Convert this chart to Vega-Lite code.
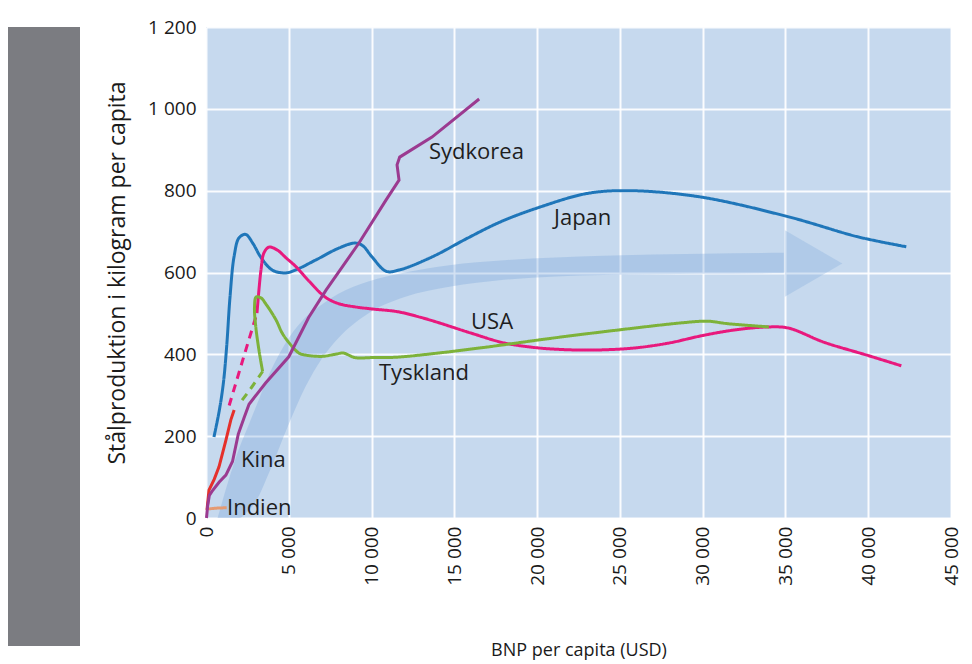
{
  "$schema": "https://vega.github.io/schema/vega-lite/v6.json",
  "padding": {"left": 8, "top": 18, "right": 5, "bottom": 0},
  "spacing": 26,
  "datasets": {
    "band": [
      {"x": 700, "y": 0, "y2": 0},
      {"x": 1500, "y": 0, "y2": 110},
      {"x": 2000, "y": 0, "y2": 170},
      {"x": 2600, "y": 20, "y2": 230},
      {"x": 3000, "y": 40, "y2": 270},
      {"x": 3800, "y": 110, "y2": 350},
      {"x": 5000, "y": 230, "y2": 440},
      {"x": 6000, "y": 320, "y2": 490},
      {"x": 7000, "y": 390, "y2": 522},
      {"x": 8000, "y": 440, "y2": 548},
      {"x": 9800, "y": 500, "y2": 578},
      {"x": 12000, "y": 540, "y2": 600},
      {"x": 14700, "y": 565, "y2": 618},
      {"x": 18000, "y": 582, "y2": 630},
      {"x": 24000, "y": 594, "y2": 641},
      {"x": 30000, "y": 597, "y2": 646},
      {"x": 34900, "y": 598, "y2": 648}
    ],
    "head": [{"x": 36700, "y": 622}],
    "lines": [
      {"country": "Japan", "part": "Japan", "segment": "measured", "i": 1, "x": 480, "y": 198},
      {"country": "Japan", "part": "Japan", "segment": "measured", "i": 2, "x": 800, "y": 262},
      {"country": "Japan", "part": "Japan", "segment": "measured", "i": 3, "x": 1050, "y": 330},
      {"country": "Japan", "part": "Japan", "segment": "measured", "i": 4, "x": 1250, "y": 420},
      {"country": "Japan", "part": "Japan", "segment": "measured", "i": 5, "x": 1450, "y": 540},
      {"country": "Japan", "part": "Japan", "segment": "measured", "i": 6, "x": 1700, "y": 640},
      {"country": "Japan", "part": "Japan", "segment": "measured", "i": 7, "x": 2000, "y": 685},
      {"country": "Japan", "part": "Japan", "segment": "measured", "i": 8, "x": 2400, "y": 693},
      {"country": "Japan", "part": "Japan", "segment": "measured", "i": 9, "x": 2850, "y": 670},
      {"country": "Japan", "part": "Japan", "segment": "measured", "i": 10, "x": 3300, "y": 638},
      {"country": "Japan", "part": "Japan", "segment": "measured", "i": 11, "x": 4000, "y": 606},
      {"country": "Japan", "part": "Japan", "segment": "measured", "i": 12, "x": 4800, "y": 599},
      {"country": "Japan", "part": "Japan", "segment": "measured", "i": 13, "x": 5400, "y": 606},
      {"country": "Japan", "part": "Japan", "segment": "measured", "i": 14, "x": 6650, "y": 631},
      {"country": "Japan", "part": "Japan", "segment": "measured", "i": 15, "x": 8040, "y": 660},
      {"country": "Japan", "part": "Japan", "segment": "measured", "i": 16, "x": 9000, "y": 672},
      {"country": "Japan", "part": "Japan", "segment": "measured", "i": 17, "x": 9450, "y": 666},
      {"country": "Japan", "part": "Japan", "segment": "measured", "i": 18, "x": 10030, "y": 638},
      {"country": "Japan", "part": "Japan", "segment": "measured", "i": 19, "x": 10880, "y": 603},
      {"country": "Japan", "part": "Japan", "segment": "measured", "i": 20, "x": 11660, "y": 606},
      {"country": "Japan", "part": "Japan", "segment": "measured", "i": 21, "x": 13650, "y": 638},
      {"country": "Japan", "part": "Japan", "segment": "measured", "i": 22, "x": 15800, "y": 684},
      {"country": "Japan", "part": "Japan", "segment": "measured", "i": 23, "x": 17800, "y": 724},
      {"country": "Japan", "part": "Japan", "segment": "measured", "i": 24, "x": 20180, "y": 760},
      {"country": "Japan", "part": "Japan", "segment": "measured", "i": 25, "x": 23000, "y": 793},
      {"country": "Japan", "part": "Japan", "segment": "measured", "i": 26, "x": 25500, "y": 800},
      {"country": "Japan", "part": "Japan", "segment": "measured", "i": 27, "x": 29800, "y": 785},
      {"country": "Japan", "part": "Japan", "segment": "measured", "i": 28, "x": 35200, "y": 736},
      {"country": "Japan", "part": "Japan", "segment": "measured", "i": 29, "x": 39400, "y": 687},
      {"country": "Japan", "part": "Japan", "segment": "measured", "i": 30, "x": 42300, "y": 663},

      {"country": "USA", "part": "USA-a", "segment": "estimated", "i": 1, "x": 1400, "y": 275},
      {"country": "USA", "part": "USA-a", "segment": "estimated", "i": 2, "x": 2250, "y": 390},
      {"country": "USA", "part": "USA-a", "segment": "estimated", "i": 3, "x": 3080, "y": 501},
      {"country": "USA", "part": "USA-b", "segment": "measured", "i": 1, "x": 3080, "y": 501},
      {"country": "USA", "part": "USA-b", "segment": "measured", "i": 2, "x": 3320, "y": 606},
      {"country": "USA", "part": "USA-b", "segment": "measured", "i": 3, "x": 3500, "y": 648},
      {"country": "USA", "part": "USA-b", "segment": "measured", "i": 4, "x": 3800, "y": 662},
      {"country": "USA", "part": "USA-b", "segment": "measured", "i": 5, "x": 4300, "y": 655},
      {"country": "USA", "part": "USA-b", "segment": "measured", "i": 6, "x": 4830, "y": 636},
      {"country": "USA", "part": "USA-b", "segment": "measured", "i": 7, "x": 5440, "y": 614},
      {"country": "USA", "part": "USA-b", "segment": "measured", "i": 8, "x": 6200, "y": 580},
      {"country": "USA", "part": "USA-b", "segment": "measured", "i": 9, "x": 7200, "y": 540},
      {"country": "USA", "part": "USA-b", "segment": "measured", "i": 10, "x": 8000, "y": 524},
      {"country": "USA", "part": "USA-b", "segment": "measured", "i": 11, "x": 9000, "y": 516},
      {"country": "USA", "part": "USA-b", "segment": "measured", "i": 12, "x": 10000, "y": 511},
      {"country": "USA", "part": "USA-b", "segment": "measured", "i": 13, "x": 11600, "y": 504},
      {"country": "USA", "part": "USA-b", "segment": "measured", "i": 14, "x": 13000, "y": 490},
      {"country": "USA", "part": "USA-b", "segment": "measured", "i": 15, "x": 14000, "y": 478},
      {"country": "USA", "part": "USA-b", "segment": "measured", "i": 16, "x": 16000, "y": 452},
      {"country": "USA", "part": "USA-b", "segment": "measured", "i": 17, "x": 18000, "y": 428},
      {"country": "USA", "part": "USA-b", "segment": "measured", "i": 18, "x": 20000, "y": 416},
      {"country": "USA", "part": "USA-b", "segment": "measured", "i": 19, "x": 22000, "y": 411},
      {"country": "USA", "part": "USA-b", "segment": "measured", "i": 20, "x": 24000, "y": 411},
      {"country": "USA", "part": "USA-b", "segment": "measured", "i": 21, "x": 26000, "y": 416},
      {"country": "USA", "part": "USA-b", "segment": "measured", "i": 22, "x": 28000, "y": 428},
      {"country": "USA", "part": "USA-b", "segment": "measured", "i": 23, "x": 30000, "y": 446},
      {"country": "USA", "part": "USA-b", "segment": "measured", "i": 24, "x": 32000, "y": 460},
      {"country": "USA", "part": "USA-b", "segment": "measured", "i": 25, "x": 34000, "y": 467},
      {"country": "USA", "part": "USA-b", "segment": "measured", "i": 26, "x": 35200, "y": 464},
      {"country": "USA", "part": "USA-b", "segment": "measured", "i": 27, "x": 37300, "y": 430},
      {"country": "USA", "part": "USA-b", "segment": "measured", "i": 28, "x": 40000, "y": 397},
      {"country": "USA", "part": "USA-b", "segment": "measured", "i": 29, "x": 42000, "y": 372},

      {"country": "Tyskland", "part": "Tyskland-a", "segment": "estimated", "i": 1, "x": 2180, "y": 288},
      {"country": "Tyskland", "part": "Tyskland-a", "segment": "estimated", "i": 2, "x": 2800, "y": 322},
      {"country": "Tyskland", "part": "Tyskland-a", "segment": "estimated", "i": 3, "x": 3420, "y": 358},
      {"country": "Tyskland", "part": "Tyskland-b", "segment": "measured", "i": 1, "x": 3420, "y": 358},
      {"country": "Tyskland", "part": "Tyskland-b", "segment": "measured", "i": 2, "x": 3200, "y": 410},
      {"country": "Tyskland", "part": "Tyskland-b", "segment": "measured", "i": 3, "x": 3000, "y": 470},
      {"country": "Tyskland", "part": "Tyskland-b", "segment": "measured", "i": 4, "x": 2930, "y": 515},
      {"country": "Tyskland", "part": "Tyskland-b", "segment": "measured", "i": 5, "x": 3030, "y": 540},
      {"country": "Tyskland", "part": "Tyskland-b", "segment": "measured", "i": 6, "x": 3320, "y": 538},
      {"country": "Tyskland", "part": "Tyskland-b", "segment": "measured", "i": 7, "x": 3600, "y": 524},
      {"country": "Tyskland", "part": "Tyskland-b", "segment": "measured", "i": 8, "x": 4230, "y": 484},
      {"country": "Tyskland", "part": "Tyskland-b", "segment": "measured", "i": 9, "x": 4600, "y": 452},
      {"country": "Tyskland", "part": "Tyskland-b", "segment": "measured", "i": 10, "x": 5020, "y": 428},
      {"country": "Tyskland", "part": "Tyskland-b", "segment": "measured", "i": 11, "x": 5620, "y": 403},
      {"country": "Tyskland", "part": "Tyskland-b", "segment": "measured", "i": 12, "x": 6040, "y": 398},
      {"country": "Tyskland", "part": "Tyskland-b", "segment": "measured", "i": 13, "x": 7000, "y": 395},
      {"country": "Tyskland", "part": "Tyskland-b", "segment": "measured", "i": 14, "x": 7800, "y": 400},
      {"country": "Tyskland", "part": "Tyskland-b", "segment": "measured", "i": 15, "x": 8300, "y": 403},
      {"country": "Tyskland", "part": "Tyskland-b", "segment": "measured", "i": 16, "x": 9000, "y": 392},
      {"country": "Tyskland", "part": "Tyskland-b", "segment": "measured", "i": 17, "x": 10000, "y": 392},
      {"country": "Tyskland", "part": "Tyskland-b", "segment": "measured", "i": 18, "x": 11500, "y": 393},
      {"country": "Tyskland", "part": "Tyskland-b", "segment": "measured", "i": 19, "x": 14000, "y": 403},
      {"country": "Tyskland", "part": "Tyskland-b", "segment": "measured", "i": 20, "x": 17000, "y": 418},
      {"country": "Tyskland", "part": "Tyskland-b", "segment": "measured", "i": 21, "x": 21000, "y": 440},
      {"country": "Tyskland", "part": "Tyskland-b", "segment": "measured", "i": 22, "x": 25000, "y": 460},
      {"country": "Tyskland", "part": "Tyskland-b", "segment": "measured", "i": 23, "x": 29000, "y": 478},
      {"country": "Tyskland", "part": "Tyskland-b", "segment": "measured", "i": 24, "x": 30300, "y": 481},
      {"country": "Tyskland", "part": "Tyskland-b", "segment": "measured", "i": 25, "x": 31500, "y": 475},
      {"country": "Tyskland", "part": "Tyskland-b", "segment": "measured", "i": 26, "x": 34000, "y": 467},

      {"country": "Indien", "part": "Indien", "segment": "measured", "i": 1, "x": 150, "y": 22},
      {"country": "Indien", "part": "Indien", "segment": "measured", "i": 2, "x": 600, "y": 24},
      {"country": "Indien", "part": "Indien", "segment": "measured", "i": 3, "x": 1250, "y": 25},

      {"country": "Kina", "part": "Kina", "segment": "measured", "i": 1, "x": 60, "y": 20},
      {"country": "Kina", "part": "Kina", "segment": "measured", "i": 2, "x": 180, "y": 68},
      {"country": "Kina", "part": "Kina", "segment": "measured", "i": 3, "x": 500, "y": 95},
      {"country": "Kina", "part": "Kina", "segment": "measured", "i": 4, "x": 785, "y": 125},
      {"country": "Kina", "part": "Kina", "segment": "measured", "i": 5, "x": 1200, "y": 190},
      {"country": "Kina", "part": "Kina", "segment": "measured", "i": 6, "x": 1500, "y": 240},
      {"country": "Kina", "part": "Kina", "segment": "measured", "i": 7, "x": 1700, "y": 264},

      {"country": "Sydkorea", "part": "Sydkorea", "segment": "measured", "i": 1, "x": 30, "y": 0},
      {"country": "Sydkorea", "part": "Sydkorea", "segment": "measured", "i": 2, "x": 100, "y": 30},
      {"country": "Sydkorea", "part": "Sydkorea", "segment": "measured", "i": 3, "x": 200, "y": 55},
      {"country": "Sydkorea", "part": "Sydkorea", "segment": "measured", "i": 4, "x": 360, "y": 65},
      {"country": "Sydkorea", "part": "Sydkorea", "segment": "measured", "i": 5, "x": 800, "y": 88},
      {"country": "Sydkorea", "part": "Sydkorea", "segment": "measured", "i": 6, "x": 1200, "y": 105},
      {"country": "Sydkorea", "part": "Sydkorea", "segment": "measured", "i": 7, "x": 1600, "y": 138},
      {"country": "Sydkorea", "part": "Sydkorea", "segment": "measured", "i": 8, "x": 1950, "y": 205},
      {"country": "Sydkorea", "part": "Sydkorea", "segment": "measured", "i": 9, "x": 2300, "y": 245},
      {"country": "Sydkorea", "part": "Sydkorea", "segment": "measured", "i": 10, "x": 2600, "y": 278},
      {"country": "Sydkorea", "part": "Sydkorea", "segment": "measured", "i": 11, "x": 3600, "y": 330},
      {"country": "Sydkorea", "part": "Sydkorea", "segment": "measured", "i": 12, "x": 5000, "y": 394},
      {"country": "Sydkorea", "part": "Sydkorea", "segment": "measured", "i": 13, "x": 6200, "y": 490},
      {"country": "Sydkorea", "part": "Sydkorea", "segment": "measured", "i": 14, "x": 7250, "y": 557},
      {"country": "Sydkorea", "part": "Sydkorea", "segment": "measured", "i": 15, "x": 9240, "y": 672},
      {"country": "Sydkorea", "part": "Sydkorea", "segment": "measured", "i": 16, "x": 10870, "y": 777},
      {"country": "Sydkorea", "part": "Sydkorea", "segment": "measured", "i": 17, "x": 11660, "y": 826},
      {"country": "Sydkorea", "part": "Sydkorea", "segment": "measured", "i": 18, "x": 11540, "y": 863},
      {"country": "Sydkorea", "part": "Sydkorea", "segment": "measured", "i": 19, "x": 11700, "y": 882},
      {"country": "Sydkorea", "part": "Sydkorea", "segment": "measured", "i": 20, "x": 13650, "y": 931},
      {"country": "Sydkorea", "part": "Sydkorea", "segment": "measured", "i": 21, "x": 16500, "y": 1024}
    ],
    "labels": [
      {"text": "Sydkorea", "x": 13470, "y": 895},
      {"text": "Japan", "x": 21020, "y": 733},
      {"text": "USA", "x": 16010, "y": 479},
      {"text": "Tyskland", "x": 10450, "y": 354},
      {"text": "Kina", "x": 2110, "y": 142},
      {"text": "Indien", "x": 1270, "y": 24}
    ]
  },
  "hconcat": [
    {
      "width": 72,
      "height": 619,
      "view": {"fill": "#7b7c81", "stroke": null},
      "data": {"values": [{"a": 1}]},
      "mark": {"type": "point", "opacity": 0},
      "encoding": {}
    },
    {
      "width": 745,
      "height": 491,
      "view": {"fill": "#c6d9ee", "stroke": null},
      "encoding": {
        "x": {
          "field": "x",
          "type": "quantitative",
          "scale": {"domain": [0, 45000], "nice": false, "zero": true},
          "axis": {
            "title": "BNP per capita (USD)",
            "values": [0, 5000, 10000, 15000, 20000, 25000, 30000, 35000, 40000, 45000],
            "format": ",d",
            "labelAngle": 270,
            "labelFontSize": 19,
            "labelPadding": 8,
            "titleFontSize": 18,
            "titlePadding": 56
          }
        },
        "y": {
          "field": "y",
          "type": "quantitative",
          "scale": {"domain": [0, 1200], "nice": false},
          "axis": {
            "title": "Stålproduktion i kilogram per capita",
            "values": [0, 200, 400, 600, 800, 1000, 1200],
            "format": ",d",
            "labelFontSize": 19,
            "labelPadding": 10,
            "titleFontSize": 23,
            "titlePadding": 18
          }
        }
      },
      "layer": [
        {
          "data": {"name": "band"},
          "mark": {"type": "area", "interpolate": "monotone", "color": "#6f9fd6", "opacity": 0.3},
          "encoding": {"y2": {"field": "y2"}}
        },
        {
          "data": {"name": "head"},
          "mark": {"type": "point", "shape": "triangle-right", "size": 4400, "filled": true, "color": "#7ea9dc", "opacity": 0.3}
        },
        {
          "data": {"name": "lines"},
          "transform": [{"filter": "datum.country !== 'Sydkorea' && datum.country !== 'Kina'"}],
          "mark": {"type": "line", "interpolate": "catmull-rom", "strokeWidth": 3},
          "encoding": {
            "color": {
              "field": "country",
              "type": "nominal",
              "scale": {"domain": ["Japan", "USA", "Tyskland", "Indien", "Kina", "Sydkorea"], "range": ["#1f76b9", "#e8197d", "#7db23a", "#e59a72", "#e5302b", "#9b3a90"]},
              "legend": null
            },
            "detail": {"field": "part"},
            "strokeDash": {
              "field": "segment",
              "type": "nominal",
              "scale": {"domain": ["measured", "estimated"], "range": [[1, 0], [8, 6]]},
              "legend": null
            },
            "order": {"field": "i", "type": "quantitative"}
          }
        },
        {
          "data": {"name": "lines"},
          "transform": [{"filter": "datum.country === 'Sydkorea' || datum.country === 'Kina'"}],
          "mark": {"type": "line", "interpolate": "linear", "strokeWidth": 3},
          "encoding": {
            "color": {"field": "country", "type": "nominal", "legend": null},
            "detail": {"field": "part"},
            "order": {"field": "i", "type": "quantitative"}
          }
        },
        {
          "data": {"name": "labels"},
          "mark": {"type": "text", "align": "left", "baseline": "middle", "fontSize": 22, "color": "#1e1e1e"},
          "encoding": {"text": {"field": "text"}}
        }
      ]
    }
  ],
  "config": {
    "font": "Open Sans",
    "view": {"stroke": null},
    "locale": {"number": {"decimal": ",", "thousands": " ", "grouping": [3], "currency": ["", " kr"]}},
    "axis": {
      "domain": false,
      "ticks": false,
      "grid": true,
      "gridColor": "#ffffff",
      "gridWidth": 2,
      "gridOpacity": 0.9,
      "labelColor": "#1a1a1a",
      "titleColor": "#1a1a1a",
      "titleFontWeight": "normal",
      "labelFont": "Open Sans",
      "titleFont": "Open Sans"
    }
  }
}
